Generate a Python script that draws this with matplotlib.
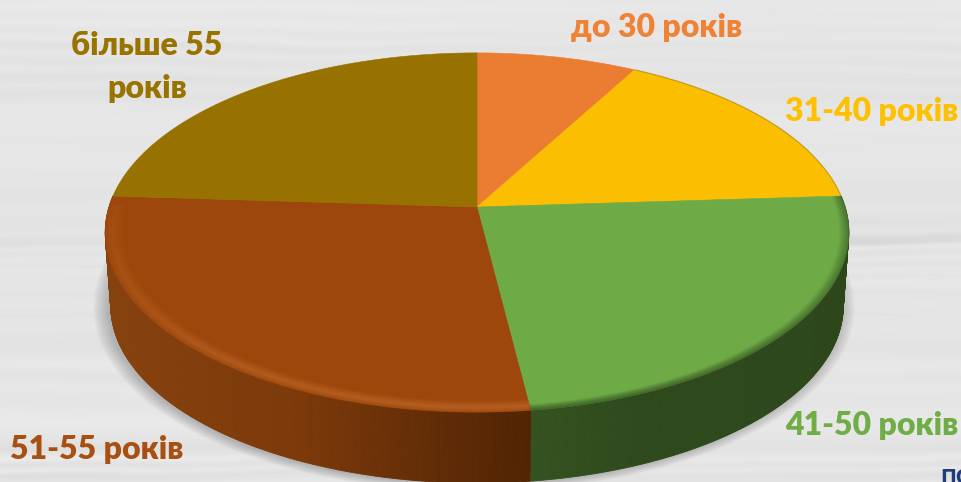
import numpy as np
import matplotlib
matplotlib.use('Agg')
import matplotlib.pyplot as plt

# Age groups and shares, clockwise from 12 o'clock
labels = ['до 30 років', '31-40 років', '41-50 років', '51-55 років', 'більше 55\nроків']
shares = [8, 16, 24, 28, 24]
colors = ['#EB7D32', '#FBBE00', '#6EAB47', '#9D470C', '#977200']
label_colors = ['#F08234', '#FFC000', '#70AD47', '#A84F12', '#997300']

# Pie geometry in pixels
cx, cy = 477, 207
a, b, k = 176, 368, 0.142
depth = 74
shrink = 0.985

# Plank shading of the wood background (row, grey level)
plank_rows = [0, 8, 16, 24, 32, 40, 47, 54, 62, 70, 78, 86, 94, 104, 120, 140, 160, 180, 195, 210, 222, 232, 238, 243, 248, 254,
              260, 266, 272, 278, 286, 294, 304, 316, 330, 344, 356, 366, 376, 386, 400, 420, 436, 446, 456, 462, 468, 474, 482]
plank_grey = [231, 234, 229, 233, 228, 232, 224, 231, 225, 230, 223, 229, 224, 229, 231, 229, 230, 228, 226, 229, 222, 228, 214,
              209, 232, 222, 233, 224, 233, 226, 232, 225, 231, 226, 230, 223, 228, 233, 226, 231, 228, 233, 228, 222, 234, 224,
              232, 221, 230]

plt.rcParams['font.family'] = ['Lato', 'Open Sans', 'DejaVu Sans']


def project(t, r=1.0):
    # t in degrees clockwise from the top of the pie
    u = r * np.sin(np.radians(t))
    v = r * np.cos(np.radians(t))
    return cx + b * u / (1 + k * v), cy - a * v / (1 + k * v)


def lower(x, y):
    return cx + shrink * (x - cx), cy + shrink * (y - cy) + depth


fig = plt.figure(figsize=(9.62, 4.82), dpi=100)
ax = fig.add_axes([0, 0, 1, 1])

# Background boards, rows bent a little so that they look like grain
xx, yy = np.meshgrid(np.arange(962), np.arange(482))
bent = yy + 2.5 * np.sin(xx / 110 + yy / 45) + 1.2 * np.sin(xx / 37 + yy / 19)
fade = 0.65 + 0.35 * np.sin(xx / 170 + yy / 60)
grain = 229 + (np.interp(bent, plank_rows, plank_grey) - 229) * fade
ax.imshow(grain, cmap='gray', vmin=0, vmax=255, extent=(0, 962, 482, 0), aspect='auto', zorder=0)

# Soft shadow below the pie
all_t = np.linspace(0, 360, 361)
sx, sy = lower(*project(all_t))
for grow in np.linspace(1.04, 1.0, 12):
    ax.fill(cx + grow * (sx - cx) - 3, sy.mean() + grow * (sy - sy.mean()) + 1, color='#555555', alpha=0.03, lw=0, zorder=1)

edges = np.concatenate([[0], np.cumsum(shares)]) * 3.6

# Side wall of the two front slices, shade taken along x
brown_x = [105, 300, 440, 528]
brown_rgb = np.array([[0x86, 0x42, 0x0E], [0x7C, 0x39, 0x0A], [0x60, 0x2C, 0x06], [0x52, 0x24, 0x03]]) / 255
green_x = [528, 640, 850]
green_rgb = np.array([[0x35, 0x52, 0x20], [0x2E, 0x4A, 0x1D], [0x2D, 0x47, 0x1B]]) / 255
for i, xs, rgb in [(2, green_x, green_rgb), (3, brown_x, brown_rgb)]:
    ts = np.linspace(edges[i], edges[i + 1], 200)
    for t0, t1 in zip(ts[:-1], ts[1:]):
        x0, y0 = project(t0)
        x1, y1 = project(t1)
        x2, y2 = lower(x1, y1)
        x3, y3 = lower(x0, y0)
        mid = (x0 + x1) / 2
        col = [np.interp(mid, xs, rgb[:, j]) for j in range(3)]
        ax.fill([x0, x1, x2, x3], [y0, y1, y2, y3], color=col, lw=0.6, zorder=2)

# Top faces
for i in range(len(shares)):
    ts = np.linspace(edges[i], edges[i + 1], 200)
    x, y = project(ts)
    ax.fill(np.r_[cx, x], np.r_[cy, y], color=colors[i], lw=0.4, zorder=3)

# Rim of the top face: a highlight on the brown slice, a dark blur on the others
ts = np.linspace(edges[3], edges[4], 300)
rim_r = np.linspace(1.0, 0.95, 14)
rim_a = np.interp(rim_r, [0.95, 0.98, 1.0], [0.0, 0.32, 0.05])
# the highlight only gets bright towards the front of the pie
for seg0, seg1, gain in zip(ts[:-1:10], ts[10::10], np.interp(ts[:-1:10], [172, 215, 262, 274], [1.2, 1.1, 0.55, 0.35])):
    part = np.linspace(seg0, seg1, 6)
    for r, alpha in zip(rim_r, rim_a):
        ax.plot(*project(part, r), color='#CC7434', alpha=min(alpha * gain, 1), lw=1.1, zorder=4, solid_capstyle='butt')

ts = np.linspace(edges[2], edges[3], 300)
for r, alpha in zip(np.linspace(1.0, 0.975, 10), np.linspace(0.45, 0.02, 10)):
    ax.plot(*project(ts, r), color='#2E481C', alpha=alpha, lw=1.0, zorder=4, solid_capstyle='butt')
ts = np.linspace(edges[1], edges[2], 200)
ax.plot(*project(ts, 1.0), color='#6B5A10', alpha=0.35, lw=0.9, zorder=4, solid_capstyle='butt')

# Labels
label_x = [657, 872, 872, 97, 147]
label_y = [28, 112, 426, 450, 67]
for i in range(len(labels)):
    ax.text(label_x[i], label_y[i], labels[i], color=label_colors[i], fontsize=23, fontweight='heavy', ha='center', va='center',
            linespacing=1.55, zorder=5)

# Word cut off by the lower edge of the slide
ax.text(940, 484, 'по', color='#1F3D7A', fontsize=20, fontweight='bold', ha='left', va='baseline', zorder=5)

ax.set_xlim(0, 962)
ax.set_ylim(482, 0)
ax.axis('off')
fig.savefig('out.png', dpi=100)
